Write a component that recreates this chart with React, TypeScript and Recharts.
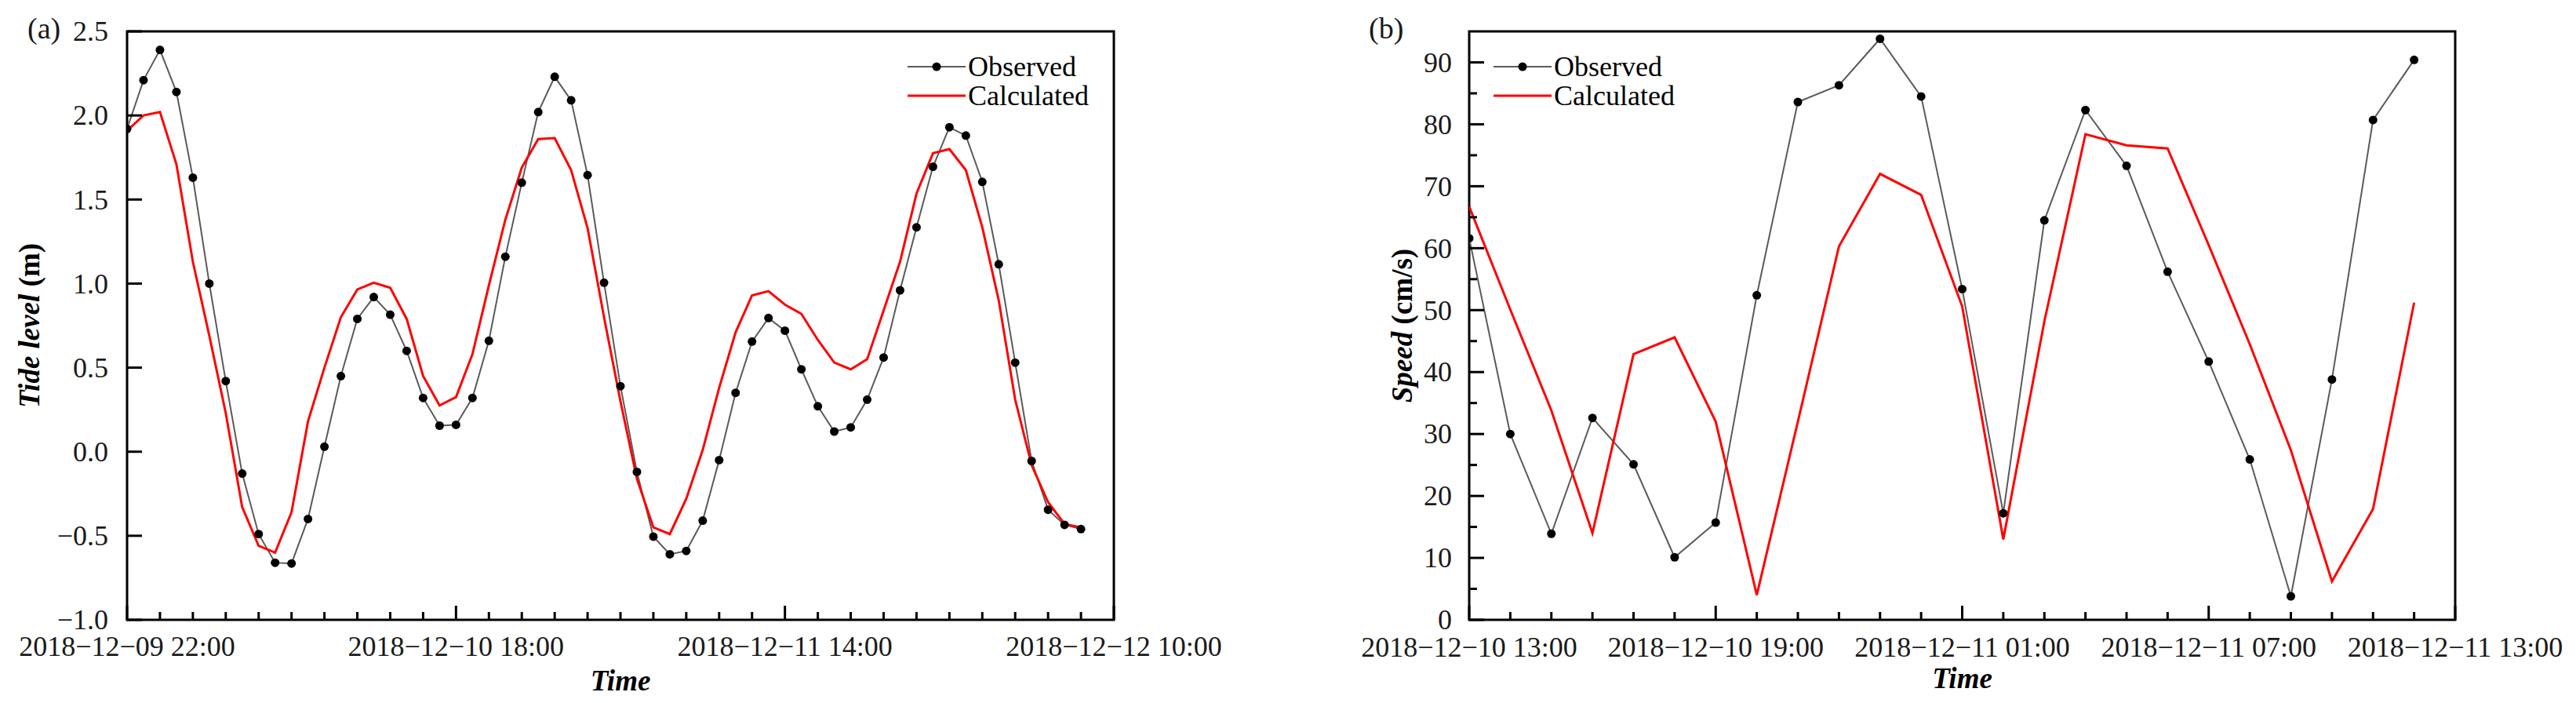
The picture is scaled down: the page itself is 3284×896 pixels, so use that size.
import { LineChart, Line, XAxis, YAxis, ReferenceArea, Legend } from 'recharts';

// (a) tide level, hourly from 2018-12-09 22:00
const tideHours = [
  0, 1, 2, 3, 4, 5, 6, 7, 8, 9, 10, 11, 12, 13, 14, 15, 16, 17, 18, 19, 20, 21, 22, 23, 24, 25, 26, 27, 28, 29,
  30, 31, 32, 33, 34, 35, 36, 37, 38, 39, 40, 41, 42, 43, 44, 45, 46, 47, 48, 49, 50, 51, 52, 53, 54, 55, 56, 57, 58,
];
const tideObserved = [
  1.92, 2.21, 2.39, 2.14, 1.63, 1.0, 0.42, -0.13, -0.49, -0.66, -0.665, -0.4, 0.03, 0.45, 0.79, 0.92, 0.815, 0.6,
  0.32, 0.155, 0.16, 0.32, 0.66, 1.16, 1.6, 2.02, 2.23, 2.09, 1.645, 1.005, 0.39, -0.12, -0.505, -0.61, -0.59, -0.41,
  -0.05, 0.35, 0.655, 0.795, 0.72, 0.49, 0.27, 0.12, 0.145, 0.31, 0.56, 0.96, 1.335, 1.695, 1.93, 1.88, 1.605, 1.115,
  0.53, -0.055, -0.345, -0.435, -0.46,
];
const tideCalculated = [
  1.91, 2.0, 2.02, 1.71, 1.13, 0.69, 0.23, -0.33, -0.56, -0.6, -0.36, 0.18, 0.5, 0.8, 0.965, 1.005, 0.975, 0.79,
  0.45, 0.275, 0.325, 0.58, 0.99, 1.38, 1.69, 1.86, 1.865, 1.675, 1.33, 0.8, 0.3, -0.16, -0.45, -0.49, -0.28, 0.01,
  0.38, 0.71, 0.93, 0.955, 0.875, 0.82, 0.665, 0.53, 0.49, 0.55, 0.84, 1.13, 1.535, 1.775, 1.8, 1.675, 1.335, 0.9,
  0.31, -0.08, -0.3, -0.43, -0.45,
];
const tideXTicks = [0, 2, 4, 6, 8, 10, 12, 14, 16, 18, 20, 22, 24, 26, 28, 30, 32, 34, 36, 38, 40, 42, 44, 46, 48, 50, 52, 54, 56, 58, 60];
const tideMajorHours = [0, 20, 40, 60];
const tideTimeLabels = ['2018−12−09 22:00', '2018−12−10 18:00', '2018−12−11 14:00', '2018−12−12 10:00'];
const tideYTicks = [-1, -0.5, 0, 0.5, 1, 1.5, 2, 2.5];
const tideYLabels = ['−1.0', '−0.5', '0.0', '0.5', '1.0', '1.5', '2.0', '2.5'];

// (b) current speed, hourly from 2018-12-10 13:00
const speedHours = [0, 1, 2, 3, 4, 5, 6, 7, 8, 9, 10, 11, 12, 13, 14, 15, 16, 17, 18, 19, 20, 21, 22, 23];
const speedObserved = [
  61.6, 30.0, 13.9, 32.6, 25.1, 10.1, 15.7, 52.4, 83.6, 86.3, 93.8, 84.5, 53.4, 17.2, 64.5, 82.3, 73.3, 56.2, 41.7,
  25.9, 3.8, 38.8, 80.7, 90.4,
];
const speedCalculated = [
  66.7, 50.1, 33.8, 14.0, 42.9, 45.6, 32.0, 4.0, 32.0, 60.3, 72.0, 68.6, 50.6, 13.0, 48.2, 78.4, 76.6, 76.1, 60.5,
  44.5, 27.4, 6.2, 17.9, 51.2,
];
const speedXTicks = [0, 1, 2, 3, 4, 5, 6, 7, 8, 9, 10, 11, 12, 13, 14, 15, 16, 17, 18, 19, 20, 21, 22, 23, 24];
const speedMajorHours = [0, 6, 12, 18, 24];
const speedTimeLabels = ['2018−12−10 13:00', '2018−12−10 19:00', '2018−12−11 01:00', '2018−12−11 07:00', '2018−12−11 13:00'];
const speedYTicks = [0, 5, 10, 15, 20, 25, 30, 35, 40, 45, 50, 55, 60, 65, 70, 75, 80, 85, 90];
const speedYMajor = [0, 10, 20, 30, 40, 50, 60, 70, 80, 90];
const speedYLabels = ['0', '10', '20', '30', '40', '50', '60', '70', '80', '90'];

const FONT = '"Liberation Serif", "Times New Roman", "DejaVu Serif", serif';
const OBS_COLOR = '#5a5a5a';
const CALC_COLOR = '#ff0000';

const tideRows = tideHours.map((h, i) => ({ h, observed: tideObserved[i], calculated: tideCalculated[i] }));
const speedRows = speedHours.map((h, i) => ({ h, observed: speedObserved[i], calculated: speedCalculated[i] }));

function makeXTick(majors: number[], labels: string[], dy: number) {
  return (props: any) => {
    const { x, y, payload } = props;
    const i = majors.indexOf(payload.value);
    return (
      <g>
        <line x1={x} x2={x} y1={y} y2={y - (i >= 0 ? 18 : 10)} stroke="#000" strokeWidth={3} />
        {i >= 0 && (
          <text x={x} y={y + dy} textAnchor="middle" fontSize={36} fontFamily={FONT} fill="#1a1a1a">
            {labels[i]}
          </text>
        )}
      </g>
    );
  };
}

function makeYTick(majors: number[], labels: string[], gap: number) {
  return (props: any) => {
    const { x, y, payload } = props;
    const i = majors.indexOf(payload.value);
    return (
      <g>
        <line x1={x} x2={x + (i >= 0 ? 19 : 10)} y1={y} y2={y} stroke="#000" strokeWidth={3} />
        {i >= 0 && (
          <text x={x - gap} y={y} dy="0.34em" textAnchor="end" fontSize={36} fontFamily={FONT} fill="#1a1a1a">
            {labels[i]}
          </text>
        )}
      </g>
    );
  };
}

function yTitle(italic: string, plain: string, baseX: number) {
  return (props: any) => {
    const vb = props.viewBox;
    const cy = vb.y + vb.height / 2;
    return (
      <text
        transform={`translate(${vb.x + baseX}, ${cy}) rotate(-90)`}
        textAnchor="middle"
        fontSize={37}
        fontWeight="bold"
        fontFamily={FONT}
        fill="#000"
      >
        <tspan fontStyle="italic">{italic}</tspan>
        <tspan>{plain}</tspan>
      </text>
    );
  };
}

function xTitle(dy: number) {
  return (props: any) => {
    const vb = props.viewBox;
    return (
      <text
        x={vb.x + vb.width / 2}
        y={vb.y + dy}
        textAnchor="middle"
        fontSize={37}
        fontWeight="bold"
        fontStyle="italic"
        fontFamily={FONT}
        fill="#000"
      >
        Time
      </text>
    );
  };
}

const legendOrder = ['Observed', 'Calculated'];

function LegendBox({ payload }: any) {
  const items = [...(payload ?? [])].sort(
    (a: any, b: any) => legendOrder.indexOf(a.value) - legendOrder.indexOf(b.value),
  );
  return (
    <svg width={240} height={84} style={{ display: 'block', overflow: 'visible' }}>
      {items.map((item: any, i: number) => {
        const cy = 25 + i * 37;
        const withDot = item.value === 'Observed';
        return (
          <g key={item.value}>
            <line x1={0} x2={74} y1={cy} y2={cy} stroke={item.color} strokeWidth={withDot ? 2 : 3} />
            {withDot && <circle cx={37} cy={cy} r={5.5} fill="#000" />}
            <text x={77} y={cy + 12} fontSize={36} fontFamily={FONT} fill="#000">
              {item.value}
            </text>
          </g>
        );
      })}
    </svg>
  );
}

const tag = (left: number): React.CSSProperties => ({
  position: 'absolute',
  left,
  top: 17,
  fontSize: 38,
  lineHeight: '38px',
  fontFamily: FONT,
  color: '#1a1a1a',
});

export default function App() {
  return (
    <div style={{ position: 'absolute', left: 0, top: 0, width: 3284, height: 896, background: '#fff' }}>
      <div style={{ position: 'absolute', left: 0, top: 0 }}>
        <LineChart width={1640} height={896} data={tideRows} margin={{ top: 40, right: 220, bottom: 0, left: 0 }}>
          <XAxis
            type="number"
            dataKey="h"
            domain={[0, 60]}
            ticks={tideXTicks}
            interval={0}
            allowDataOverflow
            height={106}
            tickSize={0}
            tickMargin={0}
            tickLine={false}
            axisLine={false}
            tick={makeXTick(tideMajorHours, tideTimeLabels, 46)}
            label={xTitle(90)}
          />
          <YAxis
            type="number"
            domain={[-1, 2.5]}
            ticks={tideYTicks}
            interval={0}
            allowDataOverflow
            width={162}
            tickSize={0}
            tickMargin={0}
            tickLine={false}
            axisLine={false}
            tick={makeYTick(tideYTicks, tideYLabels, 24)}
            label={yTitle('Tide level', ' (m)', 50)}
          />
          <ReferenceArea x1={0} x2={60} y1={-1} y2={2.5} fill="none" stroke="#000" strokeWidth={3} />
          <Line
            type="linear"
            dataKey="observed"
            name="Observed"
            stroke={OBS_COLOR}
            strokeWidth={2}
            dot={{ r: 5.5, fill: '#000', stroke: '#000', strokeWidth: 0 }}
            activeDot={false}
            isAnimationActive={false}
          />
          <Line
            type="linear"
            dataKey="calculated"
            name="Calculated"
            stroke={CALC_COLOR}
            strokeWidth={3}
            dot={false}
            activeDot={false}
            isAnimationActive={false}
          />
          <Legend
            layout="vertical"
            align="center"
            verticalAlign="middle"
            content={LegendBox}
            wrapperStyle={{ left: 1157, top: 60, width: 240 }}
          />
        </LineChart>
      </div>
      <div style={{ position: 'absolute', left: 1640, top: 0 }}>
        <LineChart width={1644} height={896} data={speedRows} margin={{ top: 40, right: 154, bottom: 0, left: 0 }}>
          <XAxis
            type="number"
            dataKey="h"
            domain={[0, 24]}
            ticks={speedXTicks}
            interval={0}
            allowDataOverflow
            height={106}
            tickSize={0}
            tickMargin={0}
            tickLine={false}
            axisLine={false}
            tick={makeXTick(speedMajorHours, speedTimeLabels, 47)}
            label={xTitle(87)}
          />
          <YAxis
            type="number"
            domain={[0, 95]}
            ticks={speedYTicks}
            interval={0}
            allowDataOverflow
            width={233}
            tickSize={0}
            tickMargin={0}
            tickLine={false}
            axisLine={false}
            tick={makeYTick(speedYMajor, speedYLabels, 22)}
            label={yTitle('Speed', ' (cm/s)', 160)}
          />
          <ReferenceArea x1={0} x2={24} y1={0} y2={95} fill="none" stroke="#000" strokeWidth={3} />
          <Line
            type="linear"
            dataKey="observed"
            name="Observed"
            stroke={OBS_COLOR}
            strokeWidth={2}
            dot={{ r: 5.5, fill: '#000', stroke: '#000', strokeWidth: 0 }}
            activeDot={false}
            isAnimationActive={false}
          />
          <Line
            type="linear"
            dataKey="calculated"
            name="Calculated"
            stroke={CALC_COLOR}
            strokeWidth={3}
            dot={false}
            activeDot={false}
            isAnimationActive={false}
          />
          <Legend
            layout="vertical"
            align="center"
            verticalAlign="middle"
            content={LegendBox}
            wrapperStyle={{ left: 264, top: 60, width: 240 }}
          />
        </LineChart>
      </div>
      <div style={tag(35)}>(a)</div>
      <div style={tag(1745)}>(b)</div>
    </div>
  );
}
